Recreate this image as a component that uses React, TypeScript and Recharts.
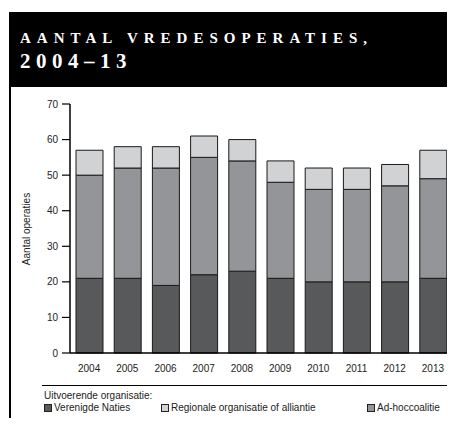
import React from 'react';
import { Bar, BarChart, XAxis, YAxis } from 'recharts';

const years = ['2004', '2005', '2006', '2007', '2008', '2009', '2010', '2011', '2012', '2013'];
const verenigdeNaties = [21, 21, 19, 22, 23, 21, 20, 20, 20, 21];
const adHocCoalitie = [29, 31, 33, 33, 31, 27, 26, 26, 27, 28];
const regionaal = [7, 6, 6, 6, 6, 6, 6, 6, 6, 8];
const yTicks = [0, 10, 20, 30, 40, 50, 60, 70];

const COLORS = { un: '#58595b', adhoc: '#939598', regional: '#d1d2d4' };
const SANS = '"Liberation Sans", Arial, sans-serif';

const chartData = years.map((y, i) => ({
  year: y,
  un: verenigdeNaties[i],
  adhoc: adHocCoalitie[i],
  regional: regionaal[i],
}));

const legendItems = [
  { label: 'Verenigde Naties', color: COLORS.un, left: 44 },
  { label: 'Regionale organisatie of alliantie', color: COLORS.regional, left: 161 },
  { label: 'Ad-hoccoalitie', color: COLORS.adhoc, left: 367 },
];

export default function App() {
  return (
    <div style={{ position: 'relative', width: 455, height: 426, margin: -8, background: '#fff', overflow: 'hidden' }}>
      {/* title block */}
      <div
        style={{
          position: 'absolute',
          left: 9,
          top: 12,
          width: 446,
          height: 75,
          background: '#000',
          color: '#fff',
          fontFamily: '"Liberation Serif", "Times New Roman", serif',
          fontWeight: 700,
        }}
      >
        <div style={{ position: 'absolute', left: 11, top: 19, fontSize: 15, letterSpacing: 6, lineHeight: 1, whiteSpace: 'nowrap' }}>
          AANTAL VREDESOPERATIES,
        </div>
        <div style={{ position: 'absolute', left: 11, top: 39, fontSize: 21, letterSpacing: 5.5, lineHeight: 1 }}>
          2004–13
        </div>
      </div>
      <div style={{ position: 'absolute', left: 9, top: 87, width: 2, height: 339, background: '#000' }} />

      <div
        style={{
          position: 'absolute',
          left: 26,
          top: 229,
          transform: 'translate(-50%, -50%) rotate(-90deg)',
          fontFamily: SANS,
          fontSize: 10,
          whiteSpace: 'nowrap',
          color: '#222',
        }}
      >
        Aantal operaties
      </div>

      <div style={{ position: 'absolute', left: 0, top: 0 }}>
        <BarChart
          width={455}
          height={426}
          data={chartData}
          margin={{ top: 104, right: 3, left: 0, bottom: 43 }}
          barSize={27}
        >
          <XAxis
            dataKey="year"
            height={30}
            tickLine={false}
            axisLine={{ stroke: '#000', strokeWidth: 1.5 }}
            tick={{ fill: '#222', fontSize: 10, fontFamily: SANS }}
            tickMargin={6}
          />
          <YAxis
            width={70}
            domain={[0, 70]}
            ticks={yTicks}
            interval={0}
            axisLine={{ stroke: '#000', strokeWidth: 1.5 }}
            tickLine={{ stroke: '#000', strokeWidth: 1.2 }}
            tickSize={8}
            tick={{ fill: '#222', fontSize: 10, fontFamily: SANS }}
            tickMargin={4}
          />
          <Bar dataKey="un" stackId="a" fill={COLORS.un} stroke="#1a1a1a" strokeWidth={1} isAnimationActive={false} />
          <Bar dataKey="adhoc" stackId="a" fill={COLORS.adhoc} stroke="#1a1a1a" strokeWidth={1} isAnimationActive={false} />
          <Bar dataKey="regional" stackId="a" fill={COLORS.regional} stroke="#1a1a1a" strokeWidth={1} isAnimationActive={false} />
        </BarChart>
      </div>

      {/* legend */}
      <div style={{ position: 'absolute', left: 42, top: 385, width: 411, height: 1, background: '#000' }} />
      <div style={{ position: 'absolute', left: 44, top: 391, fontFamily: SANS, fontSize: 10, color: '#222', lineHeight: 1 }}>
        Uitvoerende organisatie:
      </div>
      {legendItems.map((it) => (
        <div
          key={it.label}
          style={{
            position: 'absolute',
            left: it.left,
            top: 403,
            display: 'flex',
            alignItems: 'center',
            fontFamily: SANS,
            fontSize: 10,
            color: '#222',
            lineHeight: 1,
            whiteSpace: 'nowrap',
          }}
        >
          <span style={{ display: 'inline-block', width: 8, height: 8, background: it.color, border: '1px solid #222', marginRight: 2, boxSizing: 'border-box' }} />
          {it.label}
        </div>
      ))}
    </div>
  );
}
